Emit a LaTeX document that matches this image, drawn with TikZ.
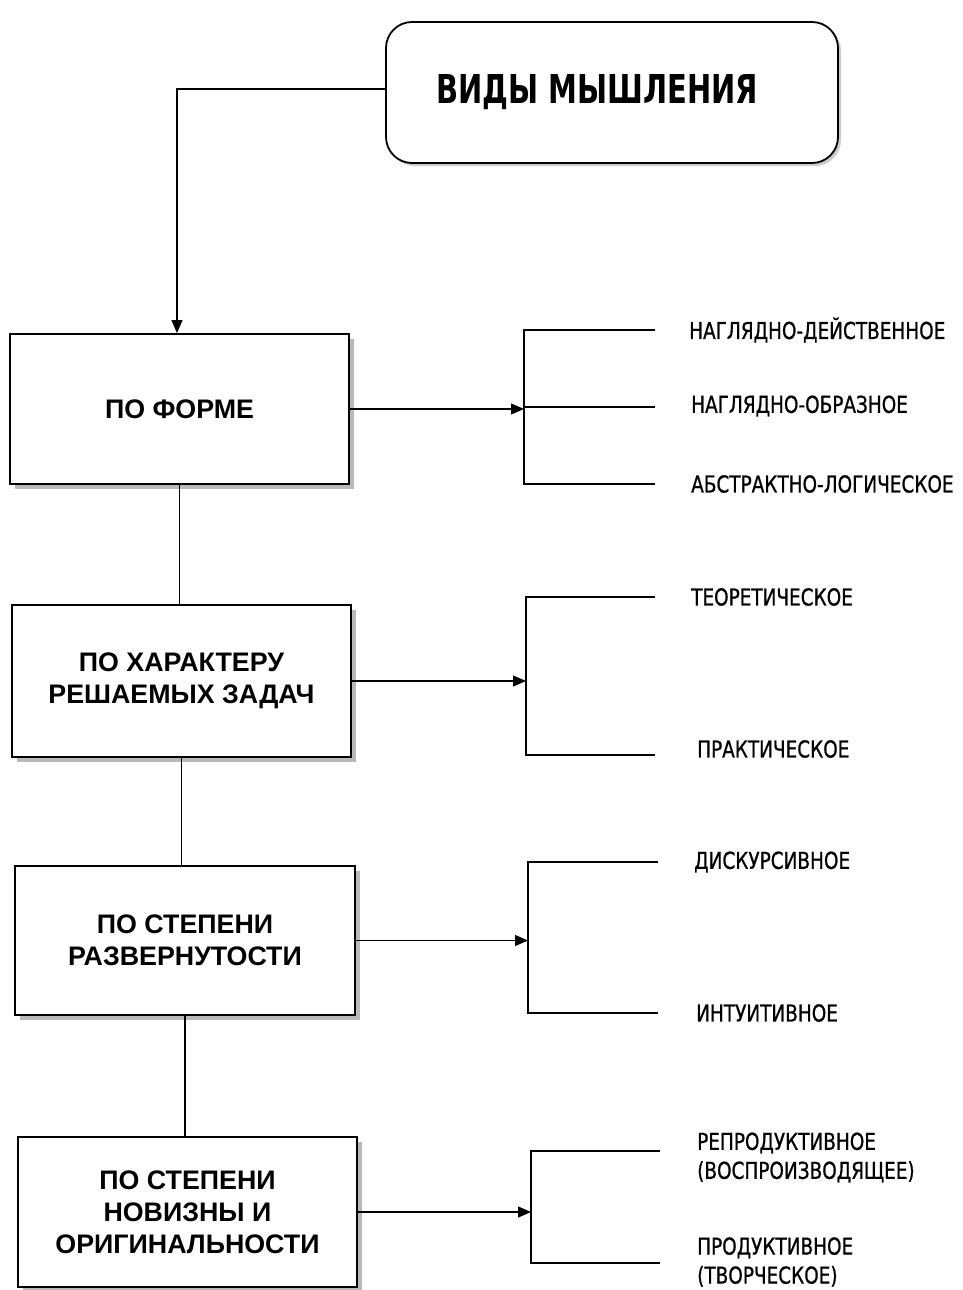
\documentclass[tikz,border=0pt]{standalone}
\usepackage{fontspec}
\setmainfont{Liberation Sans}
\newfontfamily\titlefont[FakeStretch=0.81]{DejaVu Sans Condensed}
\newfontfamily\labfont[FakeStretch=0.88,FakeBold=0.8]{DejaVu Sans Condensed}
\usetikzlibrary{arrows.meta,shadows}
\begin{document}
\begin{tikzpicture}[x=1pt,y=-1pt,
  catbox/.style={draw, line width=1.8pt, fill=white, minimum width=339pt, align=center,
    font=\fontsize{26.8}{32}\selectfont\bfseries,
    drop shadow={shadow xshift=5pt, shadow yshift=-5pt, fill=gray!55, opacity=1}},
  conn/.style={line width=1.1pt},
  arr/.style={conn, -{Triangle[length=13pt,width=11pt]}},
  lab/.style={anchor=west, inner sep=0pt, align=left, font=\labfont\fontsize{23.3}{29}\selectfont}
]
\useasboundingbox (0,0) rectangle (963,1290);
\fill[white] (0,0) rectangle (963,1290);

% title
\node[draw, line width=1.8pt, rounded corners=26pt, fill=white, minimum width=452pt, minimum height=141pt,
  drop shadow={shadow xshift=3pt, shadow yshift=-3pt, fill=gray!40, opacity=1},
  font=\titlefont\fontsize{39.8}{40}\selectfont\bfseries] (title) at (612,92.5) {\hspace*{-30pt}\raisebox{5pt}{ВИДЫ МЫШЛЕНИЯ}};

% category boxes
\node[catbox, minimum height=150pt] (b1) at (179.5,409) {ПО ФОРМЕ};
\node[catbox, minimum height=152pt] (b2) at (181.5,681) {ПО ХАРАКТЕРУ\\РЕШАЕМЫХ ЗАДАЧ};
\node[catbox, minimum height=149pt, minimum width=340pt] (b3) at (185,940.5) {ПО СТЕПЕНИ\\РАЗВЕРНУТОСТИ};
\node[catbox, minimum height=150pt] (b4) at (187.5,1212) {ПО СТЕПЕНИ\\НОВИЗНЫ И\\ОРИГИНАЛЬНОСТИ};

% title -> b1
\coordinate (tc) at (177,89);
\draw[arr] ([yshift=3.5pt]title.west) -- (tc) -- (tc |- b1.north);

% vertical links between boxes
\draw[conn] (b1.south) -- (b1.south |- b2.north);
\draw[conn] (b2.south) -- (b2.south |- b3.north);
\draw[conn] (b3.south) -- (b3.south |- b4.north);

% group 1
\coordinate (j1) at (524,409);
\coordinate (j1t) at (524,330);
\coordinate (j1b) at (524,484);
\coordinate (e1a) at (655,330);
\coordinate (e1b) at (655,407);
\coordinate (e1c) at (655,484);
\draw[arr] (b1.east) -- (j1);
\draw[conn] (e1a) -- (j1t) -- (j1b) -- (e1c);
\draw[conn] (j1t |- e1b) -- (e1b);
\node[lab] (l1a) at (689,330) {НАГЛЯДНО-ДЕЙСТВЕННОЕ};
\node[lab] (l1b) at (691,406) {НАГЛЯДНО-ОБРАЗНОЕ};
\node[lab] (l1c) at (691,484) {АБСТРАКТНО-ЛОГИЧЕСКОЕ};

% group 2
\coordinate (j2) at (526,681);
\coordinate (j2t) at (526,597);
\coordinate (j2b) at (526,755);
\coordinate (e2a) at (655,597);
\coordinate (e2b) at (655,755);
\draw[arr] (b2.east) -- (j2);
\draw[conn] (e2a) -- (j2t) -- (j2b) -- (e2b);
\node[lab] (l2a) at (691,597) {ТЕОРЕТИЧЕСКОЕ};
\node[lab] (l2b) at (697,749) {ПРАКТИЧЕСКОЕ};

% group 3
\coordinate (j3) at (528,940.5);
\coordinate (j3t) at (528,862);
\coordinate (j3b) at (528,1013);
\coordinate (e3a) at (658,862);
\coordinate (e3b) at (658,1013);
\draw[arr] (b3.east) -- (j3);
\draw[conn] (e3a) -- (j3t) -- (j3b) -- (e3b);
\node[lab] (l3a) at (694,862) {ДИСКУРСИВНОЕ};
\node[lab] (l3b) at (696,1013) {ИНТУИТИВНОЕ};

% group 4
\coordinate (j4) at (531,1212);
\coordinate (j4t) at (531,1151);
\coordinate (j4b) at (531,1263);
\coordinate (e4a) at (660,1151);
\coordinate (e4b) at (660,1263);
\draw[arr] (b4.east) -- (j4);
\draw[conn] (e4a) -- (j4t) -- (j4b) -- (e4b);
\node[lab] (l4a) at (697,1157.5) {РЕПРОДУКТИВНОЕ\\(ВОСПРОИЗВОДЯЩЕЕ)};
\node[lab] (l4b) at (697,1262) {ПРОДУКТИВНОЕ\\(ТВОРЧЕСКОЕ)};
\end{tikzpicture}
\end{document}
